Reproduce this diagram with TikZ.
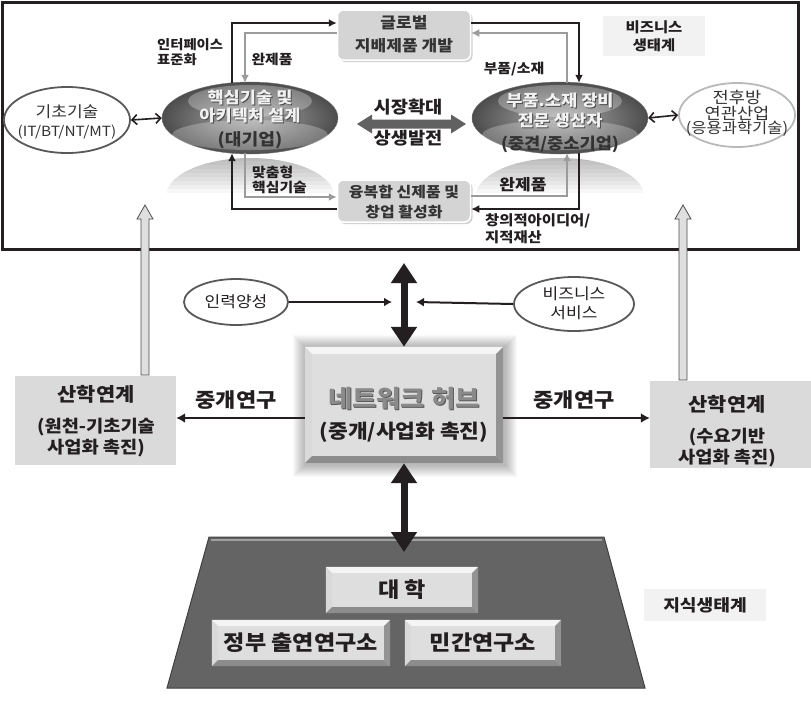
\documentclass[tikz,border=0pt]{standalone}
\usepackage{fontspec}
\setmainfont{Noto Sans CJK KR}[FakeStretch=1.1]
\usetikzlibrary{arrows.meta,calc,shapes.geometric,shadows}
\definecolor{ink}{HTML}{231F20}
\definecolor{gline}{HTML}{9B9B9B}
\definecolor{boxfill}{HTML}{D4D4D4}
\definecolor{txtdark}{HTML}{333333}
\definecolor{hubface}{HTML}{DEDEDE}
\definecolor{trapfill}{HTML}{646464}
\definecolor{labelbg}{HTML}{F2F2F2}
\definecolor{sbox}{HTML}{DADADA}
\definecolor{hubtext}{HTML}{8A8A8A}
\newcommand\bevelfaces[2]{%
 \fill[gray!8] (#1.north west) -- (#1.north east) -- ($(#1.north east)+(-#2,#2)$) -- ($(#1.north west)+(#2,#2)$) -- cycle;
 \fill[gray!30] (#1.north west) -- ($(#1.north west)+(#2,#2)$) -- ($(#1.south west)+(#2,-#2)$) -- (#1.south west) -- cycle;
 \fill[gray!85] (#1.north east) -- ($(#1.north east)+(-#2,#2)$) -- ($(#1.south east)+(-#2,-#2)$) -- (#1.south east) -- cycle;
 \fill[gray!110!black] (#1.south west) -- ($(#1.south west)+(#2,-#2)$) -- ($(#1.south east)+(-#2,-#2)$) -- (#1.south east) -- cycle;
}
\tikzset{
 lbl/.style={inner sep=0pt, font=\bfseries\fontsize{#1}{#1}\selectfont},
 lblr/.style={inner sep=0pt, font=\fontsize{#1}{#1}\selectfont},
 blk/.style={draw=ink, line width=1.8pt, -{Latex[length=8pt,width=8pt]}},
 gry/.style={draw=gline, line width=1.8pt, -{Latex[length=8pt,width=8pt]}},
 dbl/.style={draw=ink, line width=1.6pt, {Straight Barb[length=5pt,width=10pt]}-{Straight Barb[length=5pt,width=10pt]}},
 thinarr/.style={draw=ink, line width=2pt, -{Latex[length=8pt,width=9pt]}},
 medarr/.style={draw=ink, line width=2.4pt, -{Latex[length=9pt,width=10pt]}},
 fat/.style={draw=ink, line width=7pt, {Triangle[length=20pt,width=25pt]}-{Triangle[length=20pt,width=25pt]}},
 gbox/.style={rounded corners=6pt, fill=boxfill, draw=white, line width=1.5pt, minimum width=133pt, inner sep=0pt,
   drop shadow={opacity=0.35, shadow xshift=2pt, shadow yshift=-2pt}},
 glass/.style={ellipse, inner sep=0pt, minimum width=176pt, minimum height=72pt, inner color=black!32, outer color=black!70, draw=black!55, line width=0.4pt},
 plainell/.style={ellipse, inner sep=0pt, fill=white, line width=1.8pt},
 bevbox/.style={rectangle, inner sep=0pt, fill=hubface},
}
\begin{document}
\begin{tikzpicture}[x=1pt,y=-1pt]
\useasboundingbox (0,0) rectangle (811,716);
\fill[white] (0,0) rectangle (811,716);

% ---------- business ecosystem frame ----------
\node[draw=ink, line width=3pt, minimum width=796pt, minimum height=247pt, inner sep=0pt] (frame) at (400,125.5) {};

% reflections under the glass ellipses (layered fade)
\begin{scope}
 \clip (250,196) ellipse [x radius=84, y radius=38];
 \foreach \k in {4,8,...,36} \fill[black, opacity=0.03] (160,157) rectangle (340,157+\k);
\end{scope}
\begin{scope}
 \clip (560,196) ellipse [x radius=84, y radius=38];
 \foreach \k in {4,8,...,36} \fill[black, opacity=0.03] (470,157) rectangle (650,157+\k);
\end{scope}

% boxes
\node[gbox, minimum height=50pt] (G) at (404,35) {};
\node[lbl=15.5, text=txtdark] (g1) at (404,23) {글로벌};
\node[lbl=15.5, text=txtdark] (g2) at (404,46) {지배제품 개발};
\node[gbox, minimum height=42pt] (B) at (404,201) {};
\node[lbl=14.5, text=txtdark] (b1) at (404,192) {융복합 신제품 및};
\node[lbl=14.5, text=txtdark] (b2) at (404,212) {창업 활성화};

% glass ellipses
\node[glass] (L) at (250,118) {};
\fill[white, opacity=0.28] (250,101) ellipse [x radius=62, y radius=16];
\fill[white, opacity=0.25] (250,135) ellipse [x radius=78, y radius=15];
\node[lbl=16, text=black!70] (l1s) at (251,99) {핵심기술 및};
\node[lbl=16, text=black!70] (l2s) at (251,117) {아키텍처 설계};
\node[lbl=16, text=gray!10] (l1) at (250,98) {핵심기술 및};
\node[lbl=16, text=gray!10] (l2) at (250,116) {아키텍처 설계};
\node[lbl=16.5, text=black!80] (l3) at (250,140) {(대기업)};

\node[glass] (R) at (560,118) {};
\fill[white, opacity=0.28] (560,101) ellipse [x radius=62, y radius=16];
\fill[white, opacity=0.25] (560,135) ellipse [x radius=78, y radius=15];
\node[lbl=16, text=black!70] (r1s) at (561,102) {부품.소재 장비};
\node[lbl=16, text=black!70] (r2s) at (561,122) {전문 생산자};
\node[lbl=16, text=gray!10] (r1) at (560,101) {부품.소재 장비};
\node[lbl=16, text=gray!10] (r2) at (560,121) {전문 생산자};
\node[lbl=16, text=black!80] (r3) at (560,144) {(중견/중소기업)};

% side ellipses
\node[plainell, draw=black!65, minimum width=126pt, minimum height=66pt] (K) at (67,120) {};
\node[lblr=15.5, text=txtdark] (k1) at (67,112) {기초기술};
\node[lblr=14, text=txtdark] (k2) at (67,132) {(IT/BT/NT/MT)};
\node[plainell, draw=gray!55, minimum width=116pt, minimum height=64pt] (J) at (737,115) {};
\node[lblr=16, text=txtdark] (j1) at (737,97) {전후방};
\node[lblr=16, text=txtdark] (j2) at (737,113) {연관산업};
\node[lblr=15, text=txtdark] (j3) at (737,129) {(응용과학기술)};

\draw[dbl] (K.east) -- (L.west);
\draw[dbl] (R.east) -- (J.west);

% market expansion arrow
\fill[black!62]
  (357,124) -- (372,114.5) -- (372,119.5) -- (451,119.5) -- (451,114.5) -- (466,124)
  -- (451,133.5) -- (451,128.5) -- (372,128.5) -- (372,133.5) -- cycle;
\node[lbl=17, text=ink] (m1) at (408,107) {시장확대};
\node[lbl=17, text=ink] (m2) at (408,138) {상생발전};

% loop connectors
\draw[blk] ($(L.north)+(-18,1)$) |- ($(G.west)+(0,-12)$);
\draw[gry] ($(G.west)+(0,-2)$) -| ($(L.north)+(-5,1)$);
\draw[blk] ($(G.east)+(0,-12)$) -| ($(R.north)+(19,1)$);
\draw[gry] ($(R.north)+(7,1)$) |- ($(G.east)+(0,-2)$);
\draw[gry] ($(L.south)+(-5,-1)$) |- ($(B.west)+(0,-4)$);
\draw[blk] ($(B.west)+(0,8)$) -| ($(L.south)+(-18,-1)$);
\draw[gry] ($(B.east)+(0,-5)$) -| ($(R.south)+(7,-1)$);
\draw[blk] ($(R.south)+(19,-1)$) |- ($(B.east)+(0,8)$);

% connector labels
\node[lbl=13, text=ink, anchor=west] (c1) at (157,45) {인터페이스};
\node[lbl=13, text=ink, anchor=west] (c2) at (157,60) {표준화};
\node[lbl=13.5, text=ink] (c3) at (272,59) {완제품};
\node[lbl=13.5, text=ink] (c4) at (514,69) {부품/소재};
\node[lbl=13.5, text=ink, anchor=west] (c5) at (252,172) {맞춤형};
\node[lbl=13.5, text=ink, anchor=west] (c6) at (252,187) {핵심기술};
\node[lbl=15.5, text=ink] (c7) at (523,185) {완제품};
\node[lbl=14, text=ink, anchor=west] (c8) at (485,221) {창의적아이디어/};
\node[lbl=14, text=ink, anchor=west] (c9) at (485,237) {지적재산};

% business ecosystem label
\node[fill=labelbg, minimum width=102pt, minimum height=40pt, inner sep=0pt] (be) at (654,36) {};
\node[lbl=14, text=ink] (be1) at (654,27) {비즈니스};
\node[lbl=14, text=ink] (be2) at (654,45) {생태계};

% ---------- middle ----------
% hub glow
\foreach \d in {1,...,12}
  \fill[black, opacity=0.022] (305-\d,347-\d) rectangle (503+\d+2,463+\d+2);
\node[bevbox, minimum width=198pt, minimum height=116pt] (hub) at (404,405) {};
\bevelfaces{hub}{7}
\node[lbl=24, text=black!65] (h1s) at (405,400) {네트워크 허브};
\node[lbl=24, text=hubtext] (h1) at (404,399) {네트워크 허브};
\node[lbl=19.5, text=ink] (h2) at (404,432) {(중개/사업화 촉진)};

% side ellipses
\node[plainell, draw=black!65, minimum width=104pt, minimum height=46pt] (P) at (236,302) {};
\node[lblr=15.5, text=ink] (p1) at (236,302) {인력양성};
\node[plainell, draw=black!65, minimum width=120pt, minimum height=54pt] (BS) at (574,304) {};
\node[lblr=15.5, text=ink] (bs1) at (574,294) {비즈니스};
\node[lblr=15.5, text=ink] (bs2) at (574,313) {서비스};

\coordinate (tp) at (404,263);
\coordinate (tz) at (404,552);
\draw[fat] (tp) -- (hub.north);
\draw[thinarr] (P.east) -- (392,302);
\draw[thinarr] (BS.west) -- (416,302);

% industry-academia boxes
\node[fill=sbox, minimum width=161pt, minimum height=89pt, inner sep=0pt] (S1) at (95.5,420.5) {};
\node[lbl=19, text=ink] (s11) at (96,394) {산학연계};
\node[lbl=17, text=ink] (s12) at (96,427) {(원천-기초기술};
\node[lbl=17, text=ink] (s13) at (96,448) {사업화 촉진)};
\node[fill=sbox, minimum width=161pt, minimum height=87pt, inner sep=0pt] (S2) at (730.5,424.5) {};
\node[lbl=19, text=ink] (s21) at (727,404) {산학연계};
\node[lbl=17, text=ink] (s22) at (727,437) {(수요기반};
\node[lbl=17, text=ink] (s23) at (727,458) {사업화 촉진)};

\coordinate (yl) at (0,418);
\draw[medarr] (hub.west |- yl) -- (S1.east |- yl);
\draw[medarr] (hub.east |- yl) -- (S2.west |- yl);
\node[lbl=20, text=ink] (z1) at (236,400) {중개연구};
\node[lbl=20, text=ink] (z2) at (574,400) {중개연구};

% hollow up arrows
\filldraw[fill=gray!25, draw=black!70, line width=0.8pt]
  (141,375) -- (141,219) -- (137,219) -- (145,205) -- (153,219) -- (149,219) -- (149,375) -- cycle;
\filldraw[fill=gray!25, draw=black!70, line width=0.8pt]
  (679,380) -- (679,219) -- (675,219) -- (683,205) -- (691,219) -- (687,219) -- (687,380) -- cycle;

% ---------- knowledge ecosystem ----------
\fill[trapfill] (209,537) -- (604,537) -- (645,688) -- (167,688) -- cycle;
\draw[gray!75, line width=2pt] (211,539.5) -- (602,539.5);
\draw[black!75, line width=1pt] (209,537) -- (604,537) -- (645,688) -- (167,688) -- cycle;
\draw[fat] (hub.south) -- (tz);

\node[bevbox, minimum width=152pt, minimum height=46pt] (u1) at (402,590) {};
\bevelfaces{u1}{6}
\node[lbl=21, text=ink] (u1t) at (402,590) {대 학};
\node[bevbox, minimum width=178pt, minimum height=46pt] (u2) at (301,643) {};
\bevelfaces{u2}{6}
\node[lbl=21, text=ink] (u2t) at (301,643) {정부 출연연구소};
\node[bevbox, minimum width=156pt, minimum height=46pt] (u3) at (483,643) {};
\bevelfaces{u3}{6}
\node[lbl=21, text=ink] (u3t) at (483,643) {민간연구소};

\node[fill=labelbg, minimum width=122pt, minimum height=32pt, inner sep=0pt] (ke) at (705,605) {};
\node[lbl=16.5, text=ink] (ke1) at (705,605) {지식생태계};
\end{tikzpicture}
\end{document}
